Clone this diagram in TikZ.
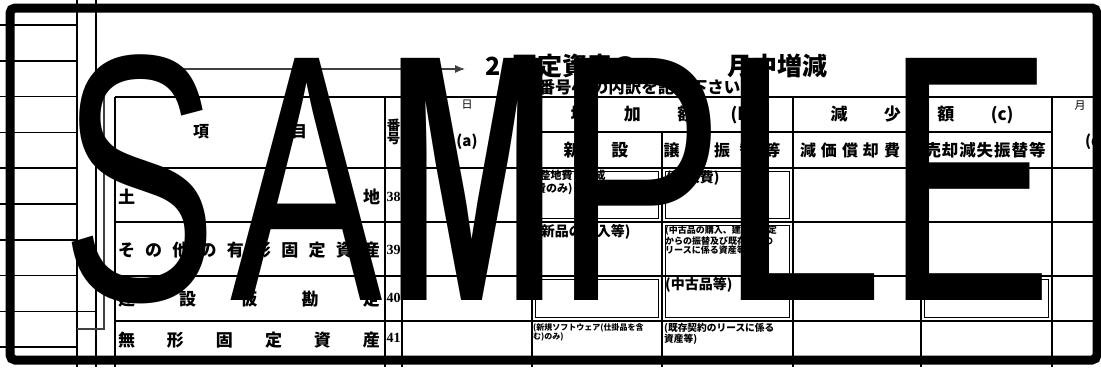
\documentclass[tikz,border=0pt]{standalone}
\usepackage{fontspec}
\usepackage{graphicx}
\setmainfont{Liberation Serif}
\newfontfamily\jpfont{Noto Sans CJK JP}
\newfontfamily\sampfont{Liberation Sans}
\usetikzlibrary{arrows.meta,positioning}
\tikzset{>=latex}
\newcommand{\fsz}[1]{\fontsize{#1}{#1}\selectfont}
\newcommand{\fszl}[2]{\fontsize{#1}{#2}\selectfont}

\begin{document}
\begin{tikzpicture}[x=1pt,y=-1pt,
  grid/.style={line width=1.6pt},
  link/.style={line width=1.1pt,black!75},
  inbox/.style={line width=1.2pt},
  frame/.style={line width=9pt,rounded corners=5pt},
  jp/.style={inner sep=0pt,font=\jpfont\bfseries\fsz{#1}},
  jplite/.style={inner sep=0pt,font=\jpfont\fsz{#1}},
  note/.style 2 args={inner sep=0pt,anchor=north west,align=left,font=\jpfont\bfseries\fszl{#1}{#2}},
  num/.style={inner sep=0pt,font=\bfseries\fsz{14}},
  samp/.style={inner sep=0pt,anchor=base west,font=\sampfont\fsz{352}}]

\useasboundingbox (0,0) rectangle (1101,367);

% Left stub
\foreach \i in {0,...,9}
  \draw[grid] (0,{25+35.8*\i}) -- (77,{25+35.8*\i});
\draw[grid] (77,0) -- (77,367);
\draw[grid] (96,0) -- (96,367);
\draw[grid] (77,311.4) -- (96,311.4);

% Link to the title
\coordinate (lnk) at (77,329);
\coordinate (tip) at (465,69);
\draw[link,-{Latex[length=10pt,width=8pt]}] (lnk) -- (104,329) |- (tip);

% Table grid
\foreach \y in {97,168,222,276,321}
  \draw[grid] (115,\y) -- (1097,\y);
\draw[grid] (532,132) -- (1052,132);
\draw[grid] (115,97) -- (115,367);
\foreach \x in {385,402,532,793,1052}
  \draw[grid] (\x,97) -- (\x,367);
\foreach \x in {662,921}
  \draw[grid] (\x,132) -- (\x,367);

% Double boxes
\foreach \a/\b/\c/\d in {532/168/662/222,662/168/793/222,662/222/793/321,532/276/662/321,921/276/1052/321}
  \draw[inbox] (\a+3.5,\b+3.5) rectangle (\c-3.5,\d-3.5);

% Title
\node[jp=25,anchor=west] (ttl) at (485,66) {\makebox[27pt][l]{2}固定資産の\hspace{90pt}月中増減};
\node[jp=16.5,anchor=west] (sub) at (522,87) {（番号40の内訳を記入下さい）};

% Header
\node[jp=16] (kou) at (201,132) {項};
\node[jp=16] (moku) at (299,132) {目};
\node[jp=13.5,align=center] (bango) at (393.5,132) {番\\号};
\node[jplite=11] (hi) at (467,105) {日};
\node[jp=15] (pa) at (467,142) {(a)};
\node[jp=17] (zoka) at (663,115) {\makebox[185pt]{増\hfill 加\hfill 額\hfill (b)}};
\node[jp=17] (gensho) at (922,115) {\makebox[183pt]{減\hfill 少\hfill 額\hfill (c)}};
\node[jp=17] (shinsetsu) at (596,150) {\makebox[65pt]{新\hfill 設}};
\node[jp=16] (joju) at (722,150) {\makebox[117pt]{譲\hfill 受\hfill 振\hfill 替\hfill 等}};
\node[jp=16] (shokyaku) at (850,150) {\makebox[100pt]{減\hfill 価\hfill 償\hfill 却\hfill 費}};
\node[jp=16.5] (baikyaku) at (985,150) {\makebox[121pt]{売\hfill 却\hfill 減\hfill 失\hfill 振\hfill 替\hfill 等}};
\node[jplite=11] (tsuki) at (1080,106) {月};
\node[jp=15,anchor=west] (pd) at (1085,142) {(d)};

% Rows
\node[jp=17] (r38) at (249,197) {\makebox[262pt]{土\hfill 地}};
\node[jp=17] (r39) at (249,250) {\makebox[262pt]{そ\hfill の\hfill 他\hfill の\hfill 有\hfill 形\hfill 固\hfill 定\hfill 資\hfill 産}};
\node[jp=17] (r40) at (249,299) {\makebox[262pt]{建\hfill 設\hfill 仮\hfill 勘\hfill 定}};
\node[jp=17] (r41) at (249,340) {\makebox[262pt]{無\hfill 形\hfill 固\hfill 定\hfill 資\hfill 産}};
\node[num] (n38) at (393.5,197) {38};
\node[num] (n39) at (393.5,250) {39};
\node[num] (n40) at (393.5,298) {40};
\node[num] (n41) at (393.5,338) {41};

% Cell notes
\node[note={11}{13}] (c38a) at (535,170) {(整地費・造成\\費のみ)};
\node[jp=14,anchor=west] (c38b) at (666,178) {(購入費)};
\node[jp=14,anchor=west] (c39a) at (535,232) {(新品の購入等)};
\node[note={9}{9.3}] (c39b) at (665,226) {(中古品の購入、建設仮勘定\\からの振替及び既存契約の\\リースに係る資産等)};
\node[jp=14,anchor=west] (c40b) at (665,285) {(中古品等)};
\node[note={8}{9}] (c41a) at (533,323) {(新規ソフトウェア(仕掛品を含\\む)のみ)};
\node[note={9.7}{11}] (c41b) at (664,323) {(既存契約のリースに係る\\資産等)};

% Frame
\draw[frame] (10,8) rectangle (1097,360);

% SAMPLE
\node[samp] (sS) at (61.4,300) {\scalebox{0.665}[1]{S}};
\node[samp] (sA) at (230.3,300) {\scalebox{0.649}[1]{A}};
\node[samp] (sM) at (387.6,300) {\scalebox{0.576}[1]{\bfseries M}};
\node[samp] (sP) at (553.2,300) {\scalebox{0.73}[1]{P}};
\node[samp] (sL) at (715.9,300) {\scalebox{0.859}[1]{L}};
\node[samp] (sE) at (885.1,300) {\scalebox{0.714}[1]{E}};

\end{tikzpicture}
\end{document}
